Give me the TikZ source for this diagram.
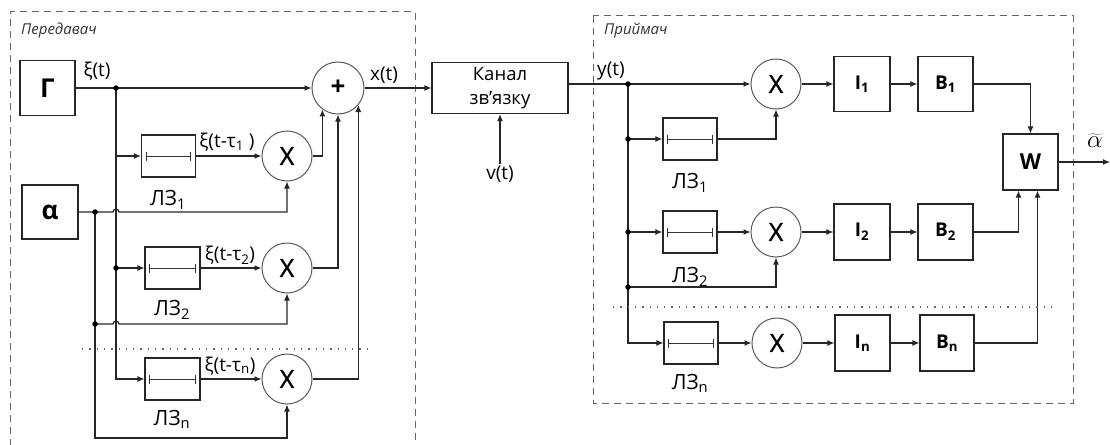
\documentclass[tikz,border=0pt]{standalone}
\usepackage{fontspec}
\setmainfont{Open Sans}
\newfontfamily\xfont{Open Sans}[FakeBold=1.2]
\usetikzlibrary{arrows.meta}
\begin{document}
\begin{tikzpicture}[x=1pt,y=-1pt,
  ln/.style={draw=black!85, line width=1.2pt},
  arr/.style={ln, -{Latex[length=7pt,width=6pt]}},
  blk/.style={draw=black!85, line width=1.2pt, inner sep=0pt, rectangle},
  circ/.style={circle, draw=black!65, line width=1pt, minimum size=50pt, inner sep=0pt, font=\fontsize{25}{30}\xfont},
  dlbox/.style={blk, minimum width=54pt, minimum height=42pt},
  jdot/.style={circle, fill=black, inner sep=0pt, minimum size=5.5pt},
  frame/.style={draw=black!60, dash pattern=on 7pt off 5pt, line width=1pt},
  lbl/.style={font=\fontsize{19}{22}\selectfont, inner sep=1pt},
  lz/.style={font=\fontsize{21}{25}\selectfont, inner sep=1pt},
  hdr/.style={font=\fontsize{15}{18}\selectfont\itshape, anchor=west, text=black!80, inner sep=0pt},
  bigb/.style={font=\fontsize{26}{30}\selectfont\bfseries},
  midb/.style={font=\fontsize{19}{23}\selectfont\bfseries},
  dotln/.style={draw=black!60, line width=1.2pt, dash pattern=on 1.3pt off 6pt}
]
\useasboundingbox (0,0) rectangle (1110,444);

% frames
\draw[frame] (10,446) -- (10,12) -- (415,12) -- (415,446);
\draw[frame] (593,16) rectangle (1073,403);
\node[hdr] (h1) at (21,31) {Передавач};
\node[hdr] (h2) at (604,31) {Приймач};

% transmitter nodes
\node[blk, minimum width=55pt, minimum height=55pt, bigb] (G) at (47.5,88) {Г};
\node[blk, minimum width=56pt, minimum height=54pt, bigb] (A) at (50,212) {α};
\node[circ, minimum size=52pt, bigb] (P) at (338,88) {+};
\node[dlbox] (d1) at (168.5,156) {};
\node[circ] (x1) at (287,156) {X};
\node[dlbox, minimum width=55pt] (d2) at (172.5,268) {};
\node[circ] (x2) at (287,268) {X};
\node[dlbox, minimum width=55pt] (dn) at (172.5,379) {};
\node[circ] (xn) at (287,379) {X};

\coordinate (j1) at (116,88);
\coordinate (j1b) at (116,156);
\coordinate (j2) at (116,268);
\coordinate (ja1) at (95,212);
\coordinate (ja2) at (95,324);
\coordinate (jb) at (95,438);

% channel
\node[blk, minimum width=136pt, minimum height=51pt, align=center, font=\fontsize{18.5}{24}\selectfont] (K) at (500,88) {Канал\\зв'язку};
\node[lbl, anchor=north, inner sep=2pt] (V) at (500,164) {v(t)};

% transmitter connectors
\draw[arr] (G.east) -- (P.west);
\draw[arr] (j1) |- (dn.west);
\draw[arr] (j1b) -- (d1.west);
\draw[arr] (j2) -- (d2.west);
\draw[arr] (d1) -- (x1);
\draw[arr] (d2) -- (x2);
\draw[arr] (dn) -- (xn);
\draw[arr] (x1.east) -| (P.234.8);
\draw[arr] (x2.east) -| (P.south);
\draw[arr] (xn.east) -| (P.320.3);
\draw[arr] (A.east) -- (ja1) -- (113,212) arc[start angle=180,end angle=0,radius=3pt] -| (x1.south);
\draw[arr] (ja2) -- (113,324) arc[start angle=180,end angle=0,radius=3pt] -| (x2.south);
\draw[arr] (ja1) -- (jb) -| (xn.south);
\draw[arr] (P.east) -- (K.west);
\draw[arr] (V) -- (K.south);

\foreach \c in {j1,j2,ja1,ja2} \node[jdot] at (\c) {};

\draw[dotln] (82,349) -- (370,349);

% transmitter labels
\node[lbl] (l1) at (97,71) {ξ(t)};
\node[lbl] (l2) at (227,142) {ξ(t-τ\textsubscript{1} )};
\node[lbl] (l3) at (230,255) {ξ(t-τ\textsubscript{2})};
\node[lbl] (l4) at (230,366) {ξ(t-τ\textsubscript{n})};
\node[lbl] (l5) at (384,75) {x(t)};
\node[lz] (z1) at (168,200) {ЛЗ\textsubscript{1}};
\node[lz] (z2) at (172,310) {ЛЗ\textsubscript{2}};
\node[lz] (z3) at (172,419) {ЛЗ\textsubscript{n}};

% receiver nodes
\coordinate (r0) at (628,84);
\coordinate (r1) at (628,139);
\coordinate (r2) at (628,232);
\coordinate (r3) at (628,287);
\node[circ] (X1) at (776,84) {X};
\node[blk, minimum width=56pt, minimum height=55pt, midb] (I1) at (862,84) {I\textsubscript{1}};
\node[blk, minimum width=55pt, minimum height=55pt, midb] (B1) at (945.5,84) {B\textsubscript{1}};
\node[dlbox] (e1) at (690,139) {};
\node[blk, minimum width=55pt, minimum height=56pt, font=\fontsize{22}{26}\selectfont\bfseries] (W) at (1030.5,162) {W};
\coordinate (out) at (1110,162);
\node[dlbox] (e2) at (690,232) {};
\node[circ] (X2) at (776,232) {X};
\node[blk, minimum width=56pt, minimum height=56pt, midb] (I2) at (862,232) {I\textsubscript{2}};
\node[blk, minimum width=55pt, minimum height=56pt, midb] (B2) at (945.5,232) {B\textsubscript{2}};
\node[dlbox] (en) at (691,343) {};
\node[circ] (Xn) at (777,343) {X};
\node[blk, minimum width=55pt, minimum height=56pt, midb] (In) at (862.5,343) {I\textsubscript{n}};
\node[blk, minimum width=54pt, minimum height=56pt, midb] (Bn) at (947,343) {B\textsubscript{n}};

% receiver connectors
\draw[arr] (K.east |- r0) -- (X1.west);
\draw[arr] (X1) -- (I1);
\draw[arr] (I1) -- (B1);
\draw[arr] (B1.east) -| (W.north);
\draw[arr] (W.east) -- (out);
\draw[arr] (r0) |- (en.west);
\draw[arr] (r1) -- (e1.west);
\draw[arr] (e1.east) -| (X1.south);
\draw[arr] (r2) -- (e2.west);
\draw[arr] (e2) -- (X2);
\draw[arr] (X2) -- (I2);
\draw[arr] (I2) -- (B2);
\draw[arr] (r3) -| (X2.south);
\draw[arr] (B2.east) -| ([xshift=-12pt]W.south);
\draw[arr] (en) -- (Xn);
\draw[arr] (Xn) -- (In);
\draw[arr] (In) -- (Bn);
\draw[arr] (Bn.east) -| ([xshift=7pt]W.south);

\foreach \c in {r0,r1,r2,r3} \node[jdot] at (\c) {};

\draw[dotln] (613,307) -- (1055,307);

% receiver labels
\node[lbl] (m1) at (611,71) {y(t)};
\node[lz] (y1) at (690,183) {ЛЗ\textsubscript{1}};
\node[lz] (y2) at (690,277) {ЛЗ\textsubscript{2}};
\node[lz] (y3) at (690,383) {ЛЗ\textsubscript{n}};
\node[font=\fontsize{24}{28}\selectfont, inner sep=0pt] (al) at (1095,141) {$\widetilde{\alpha}$};

% delay-line marks
\foreach \b in {d1,d2,dn,e1,e2,en}
  \draw[draw=black!80, line width=1pt, {Bar[width=9pt]}-{Bar[width=9pt]}] ([xshift=5pt]\b.west) -- ([xshift=-5pt]\b.east);
\end{tikzpicture}
\end{document}
